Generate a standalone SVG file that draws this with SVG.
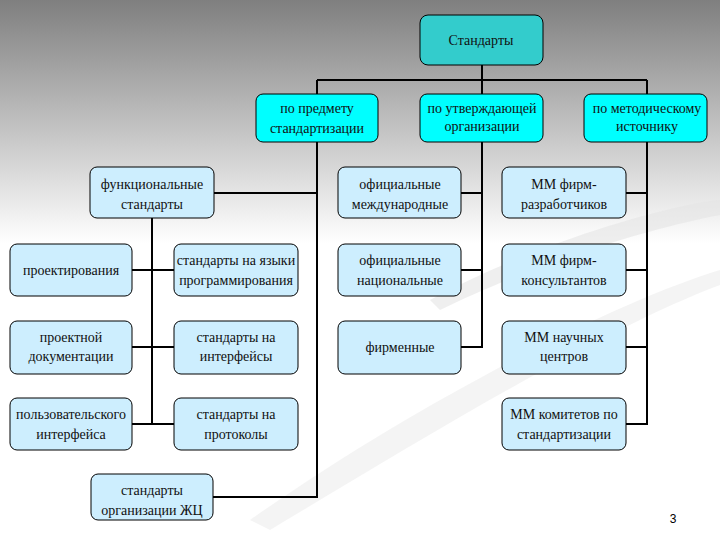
<svg xmlns="http://www.w3.org/2000/svg" width="720" height="540" viewBox="0 0 720 540">
<defs>
<linearGradient id="bg" x1="0" y1="0" x2="0" y2="1">
<stop offset="0" stop-color="#7f7f7f"/><stop offset="0.45" stop-color="#ffffff"/><stop offset="1" stop-color="#ffffff"/>
</linearGradient>
<style>
.b{fill:#cdeefe;stroke:#000;stroke-width:1}
.c{fill:#00ffff;stroke:#000;stroke-width:1}
.r{fill:#33cccc;stroke:#000;stroke-width:1}
.t text{font-family:"Times New Roman","Liberation Serif","DejaVu Serif",serif;font-size:14px;fill:#111;text-anchor:middle}
.l{fill:none;stroke:#000;stroke-width:2}
</style>
</defs>
<rect width="720" height="540" fill="url(#bg)"/>
<path d="M430 300 C560 230 700 200 720 200 L720 215 C640 230 520 270 440 310 Z" fill="#e4e4e4" opacity="0.6"/>
<path d="M250 520 C420 400 620 300 720 270 L720 285 C600 330 420 440 270 530 Z" fill="#ececec" opacity="0.6"/>
<g id="connectors" class="l">
<path d="M482 65V80M317 80H647M317 80V94M482 80V94M647 80V94"/>
<path d="M317 142V497H213M214 193H317M152 218V424M132 270H174M132 347H174M132 424H174"/>
<path d="M482 142V347H461M461 193H482M461 270H482"/>
<path d="M647 142V424H626M626 193H647M626 270H647M626 347H647"/>
</g>
<g class="t">
<g id="root"><rect x="420" y="15" width="123" height="50" rx="8" class="r"/><text x="481" y="45">Стандарты</text></g>
<g id="n1"><rect x="256" y="94" width="122" height="48" rx="7" class="c"/><text x="317" y="113">по предмету</text><text x="317" y="133">стандартизации</text></g>
<g id="n2"><rect x="420" y="94" width="123" height="48" rx="7" class="c"/><text x="482" y="113">по утверждающей</text><text x="482" y="131">организации</text></g>
<g id="n3"><rect x="584" y="94" width="123" height="48" rx="7" class="c"/><text x="647" y="113">по методическому</text><text x="647" y="131">источнику</text></g>
<g id="f"><rect x="90" y="167" width="124" height="51" rx="7" class="b"/><text x="152" y="189">функциональные</text><text x="152" y="209">стандарты</text></g>
<g id="p1"><rect x="10" y="244" width="122" height="52" rx="7" class="b"/><text x="71" y="275">проектирования</text></g>
<g id="p2"><rect x="10" y="321" width="122" height="53" rx="7" class="b"/><text x="71" y="342">проектной</text><text x="71" y="361">документации</text></g>
<g id="p3"><rect x="10" y="398" width="122" height="52" rx="7" class="b"/><text x="71" y="419">пользовательского</text><text x="71" y="439">интерфейса</text></g>
<g id="s1"><rect x="174" y="244" width="124" height="52" rx="7" class="b"/><text x="236" y="265">стандарты на языки</text><text x="236" y="285">программирования</text></g>
<g id="s2"><rect x="174" y="321" width="124" height="53" rx="7" class="b"/><text x="236" y="342">стандарты на</text><text x="236" y="361">интерфейсы</text></g>
<g id="s3"><rect x="174" y="398" width="124" height="52" rx="7" class="b"/><text x="236" y="419">стандарты на</text><text x="236" y="439">протоколы</text></g>
<g id="zc"><rect x="91" y="474" width="122" height="46" rx="7" class="b"/><text x="152" y="495">стандарты</text><text x="152" y="515">организации ЖЦ</text></g>
<g id="o1"><rect x="338" y="167" width="123" height="51" rx="7" class="b"/><text x="400" y="189">официальные</text><text x="400" y="209">международные</text></g>
<g id="o2"><rect x="338" y="244" width="123" height="52" rx="7" class="b"/><text x="400" y="265">официальные</text><text x="400" y="285">национальные</text></g>
<g id="o3"><rect x="338" y="321" width="123" height="53" rx="7" class="b"/><text x="400" y="352">фирменные</text></g>
<g id="m1"><rect x="502" y="167" width="124" height="51" rx="7" class="b"/><text x="564" y="189">ММ фирм-</text><text x="564" y="209">разработчиков</text></g>
<g id="m2"><rect x="502" y="244" width="124" height="52" rx="7" class="b"/><text x="564" y="265">ММ фирм-</text><text x="564" y="285">консультантов</text></g>
<g id="m3"><rect x="502" y="321" width="124" height="53" rx="7" class="b"/><text x="564" y="342">ММ научных</text><text x="564" y="361">центров</text></g>
<g id="m4"><rect x="502" y="398" width="124" height="52" rx="7" class="b"/><text x="564" y="419">ММ комитетов по</text><text x="564" y="439">стандартизации</text></g>
</g>
<text x="673" y="523" font-family="Liberation Sans, sans-serif" font-size="12" text-anchor="middle">3</text>
</svg>
